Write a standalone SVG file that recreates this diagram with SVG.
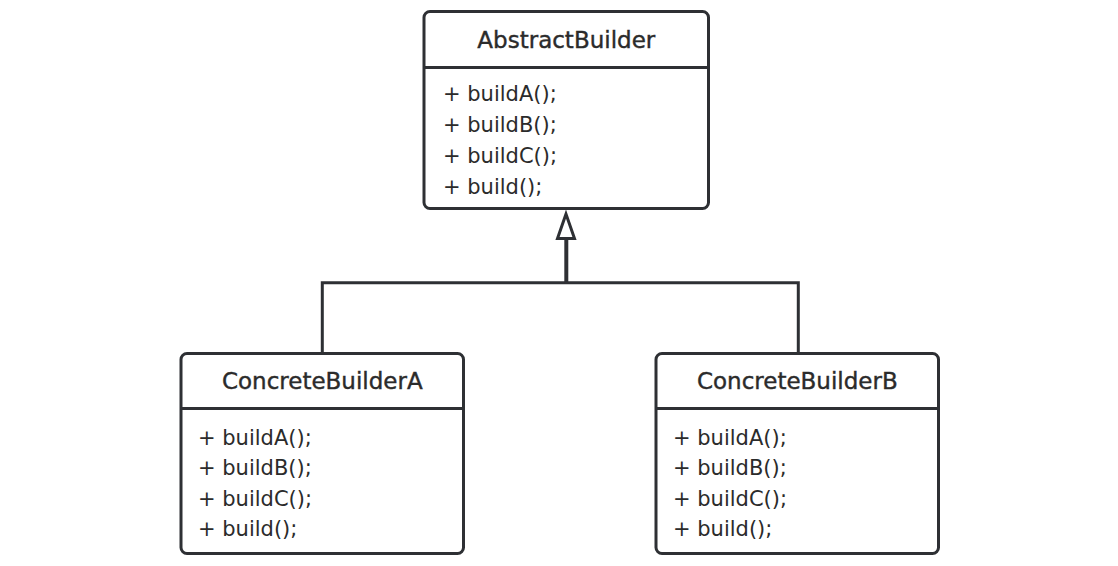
<svg xmlns="http://www.w3.org/2000/svg" width="1118" height="566" viewBox="0 0 1118 566">
  <style>
    .box { fill: #ffffff; stroke: #2e3034; stroke-width: 3; }
    .sep { stroke: #2e3034; stroke-width: 3; }
    .title { font-family: "DejaVu Sans", "Liberation Sans", sans-serif; font-size: 23px; fill: #2b2b2b; stroke: #2b2b2b; stroke-width: 0.4; text-anchor: middle; }
    .member { font-family: "DejaVu Sans", "Liberation Sans", sans-serif; font-size: 21px; fill: #2b2b2b; }
    .edge { fill: none; stroke: #2e3034; stroke-width: 3; }
  </style>
  <rect width="1118" height="566" fill="#ffffff"/>

  <!-- inheritance connectors -->
  <g id="connectors">
    <polyline class="edge" points="322.3,353.5 322.3,282.7 798.3,282.7 798.3,353.5"/>
    <line class="edge" x1="566.3" y1="284" x2="566.3" y2="239" style="stroke-width:4"/>
    <polygon class="edge" points="566,214 557.5,238.5 574.5,238.5" style="fill:#ffffff;stroke-linejoin:miter"/>
  </g>

  <g id="AbstractBuilder">
    <rect class="box" x="424" y="11.5" width="284.5" height="197" rx="6"/>
    <line class="sep" x1="424" y1="67.5" x2="708.5" y2="67.5"/>
    <text class="title" x="566.3" y="48">AbstractBuilder</text>
    <text class="member" x="443" y="101">+ buildA();</text>
    <text class="member" x="443" y="132">+ buildB();</text>
    <text class="member" x="443" y="163">+ buildC();</text>
    <text class="member" x="443" y="194">+ build();</text>
  </g>

  <g id="ConcreteBuilderA">
    <rect class="box" x="181" y="353.5" width="282.5" height="200" rx="6"/>
    <line class="sep" x1="181" y1="408.5" x2="463.5" y2="408.5"/>
    <text class="title" x="322.3" y="389">ConcreteBuilderA</text>
    <text class="member" x="198" y="445">+ buildA();</text>
    <text class="member" x="198" y="475.3">+ buildB();</text>
    <text class="member" x="198" y="505.6">+ buildC();</text>
    <text class="member" x="198" y="536">+ build();</text>
  </g>

  <g id="ConcreteBuilderB">
    <rect class="box" x="656" y="353.5" width="282.5" height="200" rx="6"/>
    <line class="sep" x1="656" y1="408.5" x2="938.5" y2="408.5"/>
    <text class="title" x="797.3" y="389">ConcreteBuilderB</text>
    <text class="member" x="673" y="445">+ buildA();</text>
    <text class="member" x="673" y="475.3">+ buildB();</text>
    <text class="member" x="673" y="505.6">+ buildC();</text>
    <text class="member" x="673" y="536">+ build();</text>
  </g>
</svg>
